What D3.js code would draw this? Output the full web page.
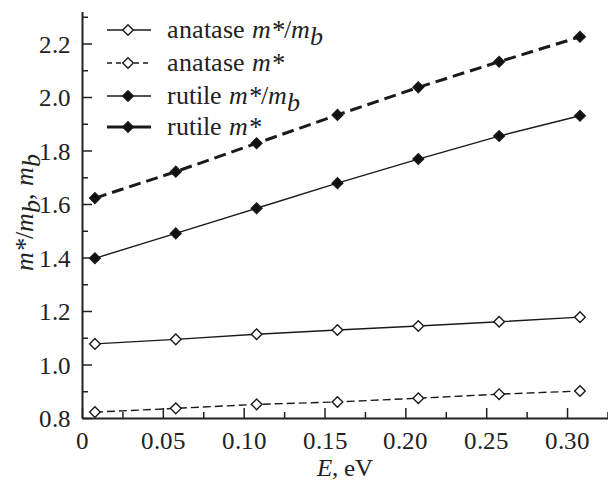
<!DOCTYPE html>
<meta charset="utf-8">
<style>
    @font-face { font-family: "TimesLocal"; font-style: normal; src: local("Liberation Serif"), local("LiberationSerif"); }
    @font-face { font-family: "TimesLocal"; font-style: italic; src: local("Liberation Serif Italic"), local("LiberationSerif-Italic"); }
</style>
<script src="https://d3js.org/d3.v7.min.js"></script>
<div id="chart"></div>
<script>
// photon energy E, eV
var energy = [0.008, 0.058, 0.108, 0.158, 0.208, 0.258, 0.308];
var anataseRatio = [1.077, 1.094, 1.113, 1.129, 1.144, 1.160, 1.177];
var anataseMass  = [0.822, 0.836, 0.851, 0.860, 0.874, 0.889, 0.901];
var rutileRatio  = [1.397, 1.490, 1.584, 1.678, 1.768, 1.854, 1.930];
var rutileMass   = [1.622, 1.721, 1.827, 1.933, 2.036, 2.132, 2.225];

var xTicks = [0, 0.05, 0.10, 0.15, 0.20, 0.25, 0.30];
var xTickLabels = ["0", "0.05", "0.10", "0.15", "0.20", "0.25", "0.30"];
var xMinor = [0.025, 0.075, 0.125, 0.175, 0.225, 0.275, 0.325];
var yTicks = [0.8, 1.0, 1.2, 1.4, 1.6, 1.8, 2.0, 2.2];
var yTickLabels = ["0.8", "1.0", "1.2", "1.4", "1.6", "1.8", "2.0", "2.2"];
var yMinor = [0.9, 1.1, 1.3, 1.5, 1.7, 1.9, 2.1, 2.3];

var svg = d3.select("#chart").append("svg")
    .attr("width", 608).attr("height", 484)
    .style("position", "absolute").style("left", "0px").style("top", "0px");

var x = d3.scaleLinear().domain([0, 0.327]).range([82, 610.7]);
var y = d3.scaleLinear().domain([0.8, 2.32]).range([418, 11.4]);

// every label is written in a Times-like serif
function serif(sel, size) {
    return sel.attr("font-family", "TimesLocal, Liberation Serif, serif").attr("font-size", size).attr("fill", "#222");
}

// axes: ticks point inward
var xAxis = svg.append("g").attr("transform", "translate(0,418)")
    .call(d3.axisBottom(x).tickValues(xTicks).tickSize(-10).tickSizeOuter(0)
        .tickPadding(10).tickFormat(function (d, i) { return xTickLabels[i]; }));
svg.append("g").attr("transform", "translate(0,418)")
    .call(d3.axisBottom(x).tickValues(xMinor).tickSize(-6).tickSizeOuter(0).tickFormat(""))
    .select(".domain").remove();

var yAxis = svg.append("g").attr("transform", "translate(82,0)")
    .call(d3.axisLeft(y).tickValues(yTicks).tickSize(-10).tickSizeOuter(0)
        .tickPadding(11).tickFormat(function (d, i) { return yTickLabels[i]; }));
svg.append("g").attr("transform", "translate(82,0)")
    .call(d3.axisLeft(y).tickValues(yMinor).tickSize(-6).tickSizeOuter(0).tickFormat(""))
    .select(".domain").remove();

svg.selectAll(".domain").attr("stroke", "#222").attr("stroke-width", 2);
svg.selectAll(".tick line").attr("stroke", "#222").attr("stroke-width", 1.5);
serif(xAxis, 25);
serif(yAxis, 25);
serif(svg.selectAll(".tick text"), 25);
xAxis.selectAll(".tick text").attr("y", 13);
yAxis.selectAll(".tick text").attr("dy", "0.34em");

var series = [
    {name: "anatase", sub: true, values: anataseRatio, dash: null, width: 1.4, fill: "#fff"},
    {name: "anatase", sub: false, values: anataseMass, dash: "8,4", width: 1.4, fill: "#fff"},
    {name: "rutile", sub: true, values: rutileRatio, dash: null, width: 1.4, fill: "#111"},
    {name: "rutile", sub: false, values: rutileMass, dash: "12,6", width: 3, fill: "#111"}
];

var diamond = d3.symbol().type(d3.symbolDiamond2).size(72);
var lineGen = d3.line()
    .x(function (d, i) { return x(energy[i]); })
    .y(function (d) { return y(d); });

series.forEach(function (s) {
    svg.append("path")
        .attr("d", lineGen(s.values))
        .attr("fill", "none")
        .attr("stroke", "#1a1a1a")
        .attr("stroke-width", s.width)
        .attr("stroke-dasharray", s.dash);
    svg.append("g").selectAll("path")
        .data(s.values)
        .join("path")
        .attr("d", diamond)
        .attr("transform", function (d, i) { return "translate(" + x(energy[i]) + "," + y(d) + ")"; })
        .attr("fill", s.fill)
        .attr("stroke", "#1a1a1a")
        .attr("stroke-width", 1.4);
});

// legend
var legendY = [30, 63, 96, 127];
series.forEach(function (s, i) {
    var g = svg.append("g").attr("transform", "translate(0," + legendY[i] + ")");
    g.append("line")
        .attr("x1", 107).attr("x2", 151).attr("y1", 0).attr("y2", 0)
        .attr("stroke", "#1a1a1a")
        .attr("stroke-width", s.width)
        .attr("stroke-dasharray", s.dash && s.width < 2 ? "5,4" : null);
    g.append("path")
        .attr("d", diamond)
        .attr("transform", "translate(128,0)")
        .attr("fill", s.fill)
        .attr("stroke", "#1a1a1a")
        .attr("stroke-width", 1.4);
    var t = serif(g.append("text").attr("x", 167).attr("y", 8), 26);
    t.append("tspan").text(s.name + " ");
    t.append("tspan").attr("font-style", "italic").text("m*");
    if (s.sub) {
        t.append("tspan").text("/");
        t.append("tspan").attr("font-style", "italic").text("m");
        t.append("tspan").attr("font-style", "italic").attr("dy", 7).text("b");
    }
});

// axis titles
var xt = serif(svg.append("text"), 25)
    .attr("x", 345).attr("y", 476)
    .attr("text-anchor", "middle");
xt.append("tspan").attr("font-style", "italic").text("E");
xt.append("tspan").text(", eV");

var yt = serif(svg.append("text"), 26)
    .attr("transform", "translate(33,212) rotate(-90)")
    .attr("text-anchor", "middle");
yt.append("tspan").attr("font-style", "italic").text("m*");
yt.append("tspan").text("/");
yt.append("tspan").attr("font-style", "italic").text("m");
yt.append("tspan").attr("font-style", "italic").attr("dy", 7).text("b");
yt.append("tspan").attr("dy", -7).text(", ");
yt.append("tspan").attr("font-style", "italic").text("m");
yt.append("tspan").attr("font-style", "italic").attr("dy", 7).text("b");
</script>
